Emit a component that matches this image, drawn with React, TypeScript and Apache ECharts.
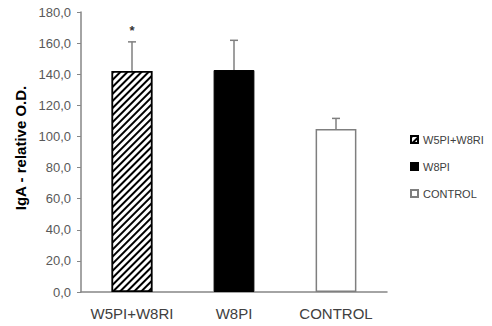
import React, { useEffect, useRef } from "react";
import * as echarts from "echarts";

const categories = ["W5PI+W8RI", "W8PI", "CONTROL"];
const seriesNames = ["W5PI+W8RI", "W8PI", "CONTROL"];
const means = [142, 142.7, 104.8];
const errorTops = [160.8, 161.8, 111.6];
const marks = ["*", "", ""];
const yTicks = { min: 0, max: 180, interval: 20 };

const FONT = "'Liberation Sans', Arial, sans-serif";

export default function App() {
  const ref = useRef<HTMLDivElement>(null);
  useEffect(() => {
    if (!ref.current) return;
    const chart = echarts.init(ref.current, undefined, { renderer: "svg" });
    const styles = [
      {
        color: "#ffffff",
        borderColor: "#000000",
        borderWidth: 1.5,
        decal: {
          symbol: "rect",
          symbolSize: 1,
          color: "#000000",
          backgroundColor: "#ffffff",
          dashArrayX: [1, 0],
          dashArrayY: [2, 2.2],
          rotation: -Math.PI / 4,
        },
      },
      { color: "#000000", borderColor: "#000000", borderWidth: 1 },
      { color: "#ffffff", borderColor: "#7f7f7f", borderWidth: 1.5 },
    ];
    const barSeries = seriesNames.map((name, i) => ({
      name,
      type: "bar",
      stack: "s",
      barWidth: "40%",
      data: categories.map((_, j) => (j === i ? means[j] : "-")),
      itemStyle: styles[i],
    }));
    const errData = categories.map((_, i) => [i, means[i], errorTops[i], marks[i]]);
    chart.setOption({
      animation: false,
      textStyle: { fontFamily: FONT },
      grid: { left: 81, right: 105, top: 12, bottom: 34, containLabel: false },
      legend: {
        orient: "vertical",
        left: 405,
        top: 129,
        itemWidth: 7,
        itemHeight: 7,
        itemGap: 16,
        icon: "rect",
        textStyle: { fontSize: 11, color: "#404040", fontFamily: FONT },
        data: seriesNames,
      },
      xAxis: {
        type: "category",
        data: categories,
        axisLine: { lineStyle: { color: "#868686", width: 1.5 } },
        axisTick: { show: false },
        axisLabel: { fontSize: 15, color: "#404040", margin: 14, interval: 0 },
      },
      yAxis: {
        type: "value",
        min: yTicks.min,
        max: yTicks.max,
        interval: yTicks.interval,
        name: "IgA - relative O.D.",
        nameLocation: "middle",
        nameGap: 52,
        nameTextStyle: { fontSize: 15, fontWeight: "bold", color: "#000000", padding: [0, 0, 0, 8] },
        axisLine: { show: true, lineStyle: { color: "#868686", width: 1.5 } },
        axisTick: { show: true, length: 4, lineStyle: { color: "#868686" } },
        splitLine: { show: false },
        axisLabel: {
          fontSize: 13,
          color: "#595959",
          margin: 10,
          formatter: (v: number) => v.toFixed(1).replace(".", ","),
        },
      },
      series: [
        ...barSeries,
        {
          type: "custom",
          name: "err",
          data: errData,
          z: 10,
          renderItem: (params: any, api: any) => {
            const x = api.value(0);
            const base = api.coord([x, api.value(1)]);
            const top = api.coord([x, api.value(2)]);
            const mark = errData[params.dataIndex][3] as string;
            const children: any[] = [
              {
                type: "line",
                shape: { x1: base[0], y1: base[1], x2: top[0], y2: top[1] },
                style: { stroke: "#7f7f7f", lineWidth: 1.5 },
              },
              {
                type: "line",
                shape: { x1: top[0] - 4, y1: top[1], x2: top[0] + 4, y2: top[1] },
                style: { stroke: "#7f7f7f", lineWidth: 1.5 },
              },
            ];
            if (mark) {
              children.push({
                type: "text",
                style: {
                  text: mark,
                  x: top[0],
                  y: top[1] - 11,
                  fill: "#333",
                  font: `bold 13px ${FONT}`,
                  align: "center",
                  verticalAlign: "middle",
                },
              });
            }
            return { type: "group", children };
          },
        },
      ],
    });
    return () => chart.dispose();
  }, []);
  return (
    <div
      ref={ref}
      style={{ width: 492, height: 326, position: "absolute", left: 0, top: 0 }}
    />
  );
}
